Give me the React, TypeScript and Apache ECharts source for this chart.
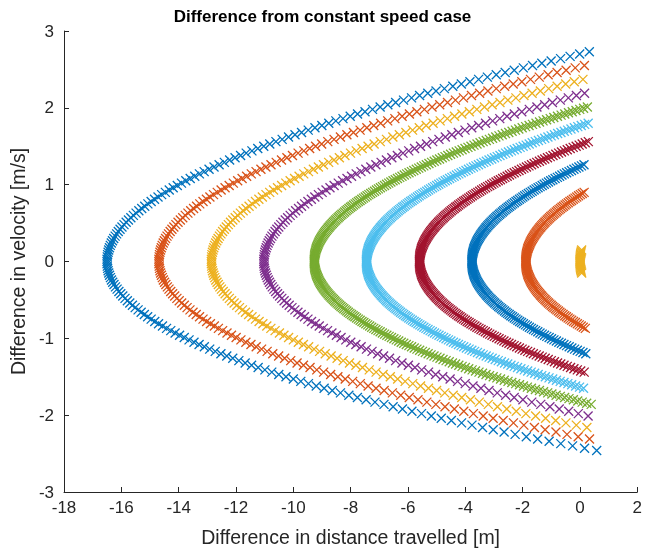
import React, { useEffect, useRef } from 'react';
import * as echarts from 'echarts';

const upperVelocity = [
  0, 0.03, 0.06, 0.09, 0.12, 0.15, 0.18, 0.21, 0.24, 0.27, 0.3, 0.33, 0.36, 0.39, 0.42, 0.45, 0.48, 0.51, 0.54, 0.57,
  0.6, 0.63, 0.66, 0.69, 0.72, 0.75, 0.78, 0.81, 0.84, 0.87, 0.9, 0.93, 0.96, 0.99, 1.02, 1.05, 1.08, 1.11, 1.14, 1.17,
  1.2, 1.23, 1.26, 1.29, 1.32, 1.35, 1.38, 1.41, 1.44, 1.47, 1.5, 1.53, 1.56, 1.59, 1.62, 1.65, 1.68, 1.71, 1.74, 1.77,
  1.8, 1.83, 1.86, 1.89, 1.92, 1.95, 1.98, 2.01, 2.04, 2.07, 2.1, 2.13, 2.16, 2.19, 2.22, 2.25, 2.28, 2.31, 2.34, 2.37,
  2.4, 2.43, 2.46, 2.49, 2.52, 2.55, 2.58, 2.61, 2.64, 2.67, 2.7, 2.73,
];
// Distance offset from each curve's vertex (m), upper branch
const upperOffset = [
  0, 0.002, 0.01, 0.021, 0.038, 0.059, 0.085, 0.115, 0.15, 0.19, 0.234, 0.283, 0.336, 0.393, 0.455, 0.522, 0.593, 0.668, 0.748, 0.832,
  0.92, 1.013, 1.11, 1.211, 1.316, 1.426, 1.54, 1.658, 1.78, 1.906, 2.036, 2.171, 2.309, 2.452, 2.598, 2.749, 2.903, 3.061, 3.224, 3.39,
  3.56, 3.734, 3.911, 4.093, 4.278, 4.467, 4.66, 4.856, 5.056, 5.26, 5.468, 5.679, 5.893, 6.111, 6.333, 6.559, 6.787, 7.02, 7.255, 7.495,
  7.737, 7.983, 8.233, 8.485, 8.741, 9.001, 9.263, 9.529, 9.798, 10.07, 10.346, 10.625, 10.906, 11.191, 11.479, 11.77, 12.064, 12.362, 12.662, 12.965,
  13.271, 13.58, 13.892, 14.207, 14.525, 14.845, 15.169, 15.495, 15.824, 16.156, 16.49, 16.827,
];
// In-between samples (for the more densely sampled curves), upper branch
const upperMidVelocity = [
  0.015, 0.045, 0.075, 0.105, 0.135, 0.165, 0.195, 0.225, 0.255, 0.285, 0.315, 0.345, 0.375, 0.405, 0.435, 0.465, 0.495, 0.525, 0.555, 0.585,
  0.615, 0.645, 0.675, 0.705, 0.735, 0.765, 0.795, 0.825, 0.855, 0.885, 0.915, 0.945, 0.975, 1.005, 1.035, 1.065, 1.095, 1.125, 1.155, 1.185,
  1.215, 1.245, 1.275, 1.305, 1.335, 1.365, 1.395, 1.425, 1.455, 1.485, 1.515, 1.545, 1.575, 1.605, 1.635, 1.665, 1.695, 1.725, 1.755, 1.785,
  1.815, 1.845, 1.875, 1.905, 1.935, 1.965, 1.995, 2.025, 2.055, 2.085, 2.115, 2.145, 2.175, 2.205, 2.235, 2.265, 2.295, 2.325, 2.355, 2.385,
  2.415, 2.445, 2.475, 2.505, 2.535, 2.565, 2.595, 2.625, 2.655, 2.685, 2.715,
];
const upperMidOffset = [
  0.001, 0.005, 0.015, 0.029, 0.048, 0.071, 0.099, 0.132, 0.169, 0.211, 0.258, 0.308, 0.364, 0.424, 0.488, 0.557, 0.63, 0.707, 0.789, 0.875,
  0.966, 1.061, 1.16, 1.263, 1.371, 1.482, 1.598, 1.718, 1.842, 1.971, 2.103, 2.239, 2.38, 2.524, 2.673, 2.825, 2.982, 3.142, 3.306, 3.474,
  3.646, 3.822, 4.001, 4.185, 4.372, 4.563, 4.757, 4.956, 5.158, 5.363, 5.573, 5.785, 6.002, 6.222, 6.445, 6.672, 6.903, 7.137, 7.375, 7.615,
  7.86, 8.107, 8.358, 8.613, 8.87, 9.131, 9.396, 9.663, 9.934, 10.208, 10.485, 10.765, 11.048, 11.335, 11.624, 11.917, 12.213, 12.511, 12.813, 13.118,
  13.425, 13.736, 14.049, 14.365, 14.685, 15.007, 15.331, 15.659, 15.989, 16.322, 16.658,
];
// Lower branch (v < 0), every 0.03
const lowerVelocity = [
  -0.03, -0.06, -0.09, -0.12, -0.15, -0.18, -0.21, -0.24, -0.27, -0.3, -0.33, -0.36, -0.39, -0.42, -0.45, -0.48, -0.51, -0.54, -0.57, -0.6,
  -0.63, -0.66, -0.69, -0.72, -0.75, -0.78, -0.81, -0.84, -0.87, -0.9, -0.93, -0.96, -0.99, -1.02, -1.05, -1.08, -1.11, -1.14, -1.17, -1.2,
  -1.23, -1.26, -1.29, -1.32, -1.35, -1.38, -1.41, -1.44, -1.47, -1.5, -1.53, -1.56, -1.59, -1.62, -1.65, -1.68, -1.71, -1.74, -1.77, -1.8,
  -1.83, -1.86, -1.89, -1.92, -1.95, -1.98, -2.01, -2.04, -2.07, -2.1, -2.13, -2.16, -2.19, -2.22, -2.25, -2.28, -2.31, -2.34, -2.37, -2.4,
  -2.43, -2.46,
];
const lowerOffset = [
  0.002, 0.01, 0.022, 0.039, 0.061, 0.088, 0.12, 0.156, 0.198, 0.244, 0.296, 0.352, 0.414, 0.48, 0.551, 0.628, 0.709, 0.795, 0.887, 0.983,
  1.084, 1.191, 1.302, 1.418, 1.54, 1.666, 1.798, 1.935, 2.077, 2.224, 2.376, 2.533, 2.695, 2.862, 3.035, 3.212, 3.395, 3.583, 3.776, 3.974,
  4.178, 4.387, 4.6, 4.82, 5.044, 5.273, 5.508, 5.748, 5.993, 6.244, 6.5, 6.761, 7.027, 7.299, 7.575, 7.858, 8.145, 8.438, 8.736, 9.04,
  9.349, 9.663, 9.982, 10.307, 10.638, 10.973, 11.314, 11.661, 12.013, 12.37, 12.733, 13.101, 13.475, 13.854, 14.238, 14.628, 15.024, 15.425, 15.831, 16.243,
  16.661, 17.084,
];
const lowerMidVelocity = [
  -0.015, -0.045, -0.075, -0.105, -0.135, -0.165, -0.195, -0.225, -0.255, -0.285, -0.315, -0.345, -0.375, -0.405, -0.435, -0.465, -0.495, -0.525, -0.555, -0.585,
  -0.615, -0.645, -0.675, -0.705, -0.735, -0.765, -0.795, -0.825, -0.855, -0.885, -0.915, -0.945, -0.975, -1.005, -1.035, -1.065, -1.095, -1.125, -1.155, -1.185,
  -1.215, -1.245, -1.275, -1.305, -1.335, -1.365, -1.395, -1.425, -1.455, -1.485, -1.515, -1.545, -1.575, -1.605, -1.635, -1.665, -1.695, -1.725, -1.755, -1.785,
  -1.815, -1.845, -1.875, -1.905, -1.935, -1.965, -1.995, -2.025, -2.055, -2.085, -2.115, -2.145, -2.175, -2.205, -2.235, -2.265, -2.295, -2.325, -2.355, -2.385,
  -2.415, -2.445,
];
const lowerMidOffset = [
  0.001, 0.005, 0.015, 0.03, 0.049, 0.074, 0.103, 0.137, 0.176, 0.22, 0.269, 0.323, 0.382, 0.446, 0.515, 0.589, 0.668, 0.751, 0.84, 0.934,
  1.033, 1.137, 1.246, 1.359, 1.478, 1.602, 1.732, 1.866, 2.005, 2.149, 2.299, 2.453, 2.613, 2.778, 2.948, 3.123, 3.303, 3.488, 3.679, 3.875,
  4.075, 4.282, 4.493, 4.709, 4.931, 5.158, 5.39, 5.627, 5.87, 6.118, 6.371, 6.629, 6.893, 7.162, 7.436, 7.716, 8.001, 8.291, 8.586, 8.887,
  9.193, 9.505, 9.822, 10.144, 10.472, 10.805, 11.143, 11.487, 11.836, 12.191, 12.551, 12.916, 13.287, 13.664, 14.045, 14.433, 14.825, 15.224, 15.627, 16.037,
  16.451, 16.871,
];

// Per-curve vertex position (m), how many 0.03 steps each branch reaches, and sampling density
const curveVertex = [-16.5, -14.69, -12.86, -11.03, -9.27, -7.45, -5.6, -3.77, -1.89, 0];
const curveTopSteps = [91, 85, 79, 73, 67, 60, 52, 42, 30, 5];
const curveBottomSteps = [82, 77, 72, 67, 62, 55, 48, 40, 29, 5];
const curveDense = [false, false, false, false, true, true, true, true, true, true];
const curveColors = ['#0072BD', '#D95319', '#EDB120', '#7E2F8E', '#77AC30', '#4DBEEE', '#A2142F', '#0072BD', '#D95319', '#EDB120'];

const xTicks = { min: -18, max: 2, interval: 2 };
const yTicks = { min: -3, max: 3, interval: 1 };

const titleText = 'Difference from constant speed case';
const xLabel = 'Difference in distance travelled [m]';
const yLabel = 'Difference in velocity [m/s]';

const FONT = '"Liberation Sans", Arial, Helvetica, sans-serif';
const AXIS_COLOR = '#262626';
const CROSS = 'path://M0,0L10,10M10,0L0,10';

export default function App() {
  const ref = useRef<HTMLDivElement>(null);
  useEffect(() => {
    if (!ref.current) return;
    const chart = echarts.init(ref.current, undefined, { renderer: 'svg' });
    const series = curveVertex.map((x0, i) => {
      const pts: number[][] = [];
      const dense = curveDense[i];
      for (let j = curveBottomSteps[i] - 1; j >= 0; j--) {
        pts.push([x0 + lowerOffset[j], lowerVelocity[j]]);
        if (dense) pts.push([x0 + lowerMidOffset[j], lowerMidVelocity[j]]);
      }
      for (let j = 0; j <= curveTopSteps[i]; j++) {
        pts.push([x0 + upperOffset[j], upperVelocity[j]]);
        if (dense && j < curveTopSteps[i]) pts.push([x0 + upperMidOffset[j], upperMidVelocity[j]]);
      }
      return {
        type: 'scatter',
        data: pts,
        symbol: CROSS,
        symbolSize: 9,
        silent: true,
        itemStyle: { color: 'rgba(0,0,0,0)', borderColor: curveColors[i], borderWidth: 1.3, opacity: 1 },
      };
    });
    const axisCommon = {
      type: 'value',
      axisLine: { show: true, onZero: false, lineStyle: { color: AXIS_COLOR, width: 1 } },
      axisTick: { show: true, inside: true, length: 5, lineStyle: { color: AXIS_COLOR, width: 1 } },
      splitLine: { show: false },
      nameLocation: 'middle',
    };
    chart.setOption({
      animation: false,
      title: {
        text: titleText,
        left: 'center',
        top: 3,
        textStyle: { fontFamily: FONT, fontSize: 17, fontWeight: 'bold', color: '#000' },
      },
      grid: { left: 61, right: 3, top: 31, bottom: 61, containLabel: false },
      xAxis: {
        ...axisCommon,
        ...xTicks,
        name: xLabel,
        nameGap: 35,
        nameTextStyle: { fontFamily: FONT, fontSize: 19.5, color: AXIS_COLOR },
        axisLabel: { color: AXIS_COLOR, fontFamily: FONT, fontSize: 17, margin: 7 },
      },
      yAxis: {
        ...axisCommon,
        ...yTicks,
        name: yLabel,
        nameGap: 34,
        nameTextStyle: { fontFamily: FONT, fontSize: 19.5, color: AXIS_COLOR },
        axisLabel: { color: AXIS_COLOR, fontFamily: FONT, fontSize: 17, margin: 10 },
      },
      series,
    });
    return () => chart.dispose();
  }, []);
  return <div ref={ref} style={{ position: 'fixed', left: 0, top: 0, width: 645, height: 553 }} />;
}
